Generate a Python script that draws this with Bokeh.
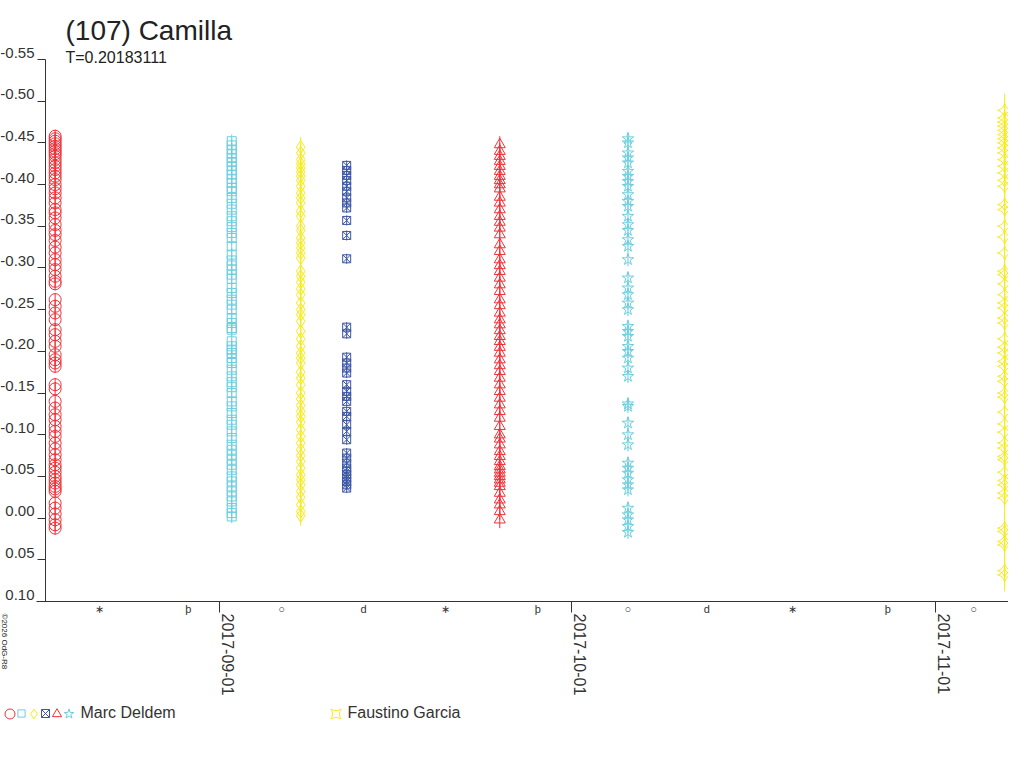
import numpy as np
import pandas as pd
from bokeh.plotting import figure
from bokeh.models import (Range1d, LinearAxis, DatetimeAxis, FixedTicker, DatetimeTickFormatter,
                          NumeralTickFormatter, Label, Legend, LegendItem)
from bokeh.embed import file_html
from bokeh.resources import INLINE

title = "(107) Camilla"
subtitle = "T=0.20183111"
credit = "©2026 OdG-R8"

# relative magnitudes, one list per night
s1_date = "2017-08-18 00:00"   # Marc Deldem, circles
s1_mag = [-0.458, -0.455, -0.452, -0.449, -0.446, -0.443, -0.440, -0.437, -0.434, -0.430,
          -0.426, -0.422, -0.418, -0.414, -0.410, -0.406, -0.400, -0.395, -0.390, -0.384,
          -0.378, -0.370, -0.366, -0.360, -0.352, -0.345, -0.340, -0.333, -0.325, -0.318,
          -0.310, -0.304, -0.298, -0.290, -0.284, -0.281, -0.262, -0.254, -0.246, -0.238,
          -0.226, -0.220, -0.212, -0.206, -0.196, -0.190, -0.186, -0.182, -0.160, -0.155,
          -0.140, -0.132, -0.124, -0.118, -0.110, -0.104, -0.098, -0.090, -0.083, -0.076,
          -0.070, -0.064, -0.060, -0.055, -0.050, -0.046, -0.042, -0.038, -0.035, -0.032,
          -0.018, -0.012, -0.005, 0.002, 0.008, 0.012]
s1_err = 0.008

s2_date = "2017-09-02 01:00"   # Marc Deldem, squares
s2_mag = [-0.452, -0.447, -0.442, -0.437, -0.432, -0.427, -0.422, -0.417, -0.412, -0.407,
          -0.402, -0.396, -0.392, -0.384, -0.377, -0.370, -0.362, -0.356, -0.349, -0.342,
          -0.336, -0.326, -0.316, -0.309, -0.303, -0.298, -0.292, -0.287, -0.276, -0.270,
          -0.262, -0.256, -0.250, -0.240, -0.234, -0.228, -0.226, -0.212, -0.206, -0.202,
          -0.198, -0.192, -0.186, -0.178, -0.170, -0.163, -0.157, -0.150, -0.140, -0.134,
          -0.126, -0.118, -0.112, -0.104, -0.096, -0.088, -0.082, -0.076, -0.070, -0.064,
          -0.058, -0.050, -0.044, -0.038, -0.032, -0.026, -0.020, -0.012, -0.006, -0.002]
s2_err = 0.008

s3_date = "2017-09-07 22:00"   # Marc Deldem, diamonds
s3_mag = [-0.445, -0.438, -0.430, -0.425, -0.420, -0.415, -0.410, -0.405, -0.398, -0.390,
          -0.384, -0.378, -0.368, -0.362, -0.350, -0.345, -0.336, -0.330, -0.324, -0.318,
          -0.312, -0.296, -0.290, -0.283, -0.275, -0.268, -0.258, -0.250, -0.244, -0.236,
          -0.224, -0.215, -0.206, -0.198, -0.192, -0.186, -0.175, -0.168, -0.160, -0.150,
          -0.143, -0.135, -0.128, -0.122, -0.115, -0.106, -0.098, -0.090, -0.082, -0.075,
          -0.068, -0.060, -0.052, -0.046, -0.040, -0.032, -0.025, -0.016, -0.008, -0.003]
s3_err = 0.012

s4_date = "2017-09-11 20:00"   # Marc Deldem, crossed squares
s4_mag = [-0.423, -0.417, -0.411, -0.405, -0.398, -0.392, -0.384, -0.378, -0.372, -0.357,
          -0.339, -0.311, -0.229, -0.221, -0.193, -0.186, -0.180, -0.174, -0.160, -0.152,
          -0.146, -0.140, -0.128, -0.122, -0.112, -0.104, -0.094, -0.078, -0.072, -0.066,
          -0.060, -0.056, -0.052, -0.048, -0.044, -0.040, -0.036]
s4_err = 0.006

s5_date = "2017-09-24 21:00"   # Marc Deldem, triangles
s5_mag = [-0.448, -0.440, -0.434, -0.428, -0.422, -0.416, -0.410, -0.405, -0.400, -0.395,
          -0.385, -0.378, -0.370, -0.362, -0.355, -0.348, -0.340, -0.328, -0.320, -0.310,
          -0.303, -0.296, -0.288, -0.280, -0.272, -0.262, -0.255, -0.246, -0.238, -0.232,
          -0.225, -0.218, -0.212, -0.205, -0.198, -0.190, -0.183, -0.176, -0.168, -0.160,
          -0.152, -0.144, -0.136, -0.128, -0.120, -0.110, -0.100, -0.095, -0.088, -0.080,
          -0.074, -0.068, -0.062, -0.058, -0.054, -0.050, -0.046, -0.042, -0.038, -0.030,
          -0.022, -0.016, -0.008, 0.002]
s5_err = 0.010

s6_date = "2017-10-05 19:00"   # Marc Deldem, stars
s6_mag = [-0.455, -0.450, -0.438, -0.432, -0.426, -0.416, -0.410, -0.404, -0.398, -0.388,
          -0.380, -0.374, -0.362, -0.352, -0.345, -0.334, -0.326, -0.310, -0.288, -0.276,
          -0.268, -0.258, -0.250, -0.230, -0.224, -0.218, -0.206, -0.200, -0.192, -0.180,
          -0.170, -0.137, -0.134, -0.114, -0.100, -0.088, -0.066, -0.060, -0.054, -0.046,
          -0.040, -0.034, -0.012, -0.004, 0.002, 0.010, 0.017]
s6_err = 0.008

s7_date = "2017-11-06 21:00"   # Faustino Garcia
s7_mag = [-0.489, -0.480, -0.475, -0.470, -0.465, -0.460, -0.455, -0.450, -0.444, -0.438,
          -0.430, -0.422, -0.414, -0.405, -0.398, -0.376, -0.370, -0.350, -0.337, -0.318,
          -0.296, -0.292, -0.281, -0.268, -0.258, -0.252, -0.240, -0.234, -0.215, -0.205,
          -0.198, -0.188, -0.182, -0.170, -0.164, -0.150, -0.145, -0.127, -0.113, -0.103,
          -0.090, -0.084, -0.074, -0.070, -0.055, -0.045, -0.040, -0.030, -0.024, 0.012,
          0.016, 0.028, 0.032, 0.063, 0.068]
s7_err = 0.020

y_ticks = [-0.55, -0.50, -0.45, -0.40, -0.35, -0.30, -0.25, -0.20, -0.15, -0.10, -0.05, 0.00, 0.05, 0.10]
month_ticks = ["2017-09-01", "2017-10-01", "2017-11-01"]

# lunar phases (UTC)
moon_times = ["2017-08-21 18:30", "2017-08-29 08:13", "2017-09-06 07:03", "2017-09-13 06:25",
              "2017-09-20 05:30", "2017-09-28 02:53", "2017-10-05 18:40", "2017-10-12 12:25",
              "2017-10-19 19:12", "2017-10-27 22:22", "2017-11-04 05:23"]
moon_marks = ["∗", "þ", "○", "d", "∗", "þ", "○", "d", "∗", "þ", "○"]


def ms(t):
    return float(pd.Timestamp(t).value // 10**6)


FONT = "Liberation Sans"
INK = "#333333"
W, H = 1008, 752

# the frame fills the canvas; the axes sit at fixed places inside it
px_day = 11.74
x0 = pd.Timestamp("2017-09-01") - pd.Timedelta(days=219 / px_day)
x1 = x0 + pd.Timedelta(days=W / px_day)
px_unit = 542 / 0.65
y_top = -0.55 - 59 / px_unit
y_bottom = 0.10 + (H - 601) / px_unit


def x_at(px):
    return ms(x0 + pd.Timedelta(days=px / px_day))


dy = 7 / px_unit                              # lifts y labels above their ticks
dx = pd.Timedelta(days=8 / px_day)            # moves date labels right of their ticks

p = figure(width=W, height=H, x_axis_type="datetime",
           x_range=Range1d(x0, x1), y_range=Range1d(y_bottom, y_top),
           output_backend="svg", toolbar_location=None,
           min_border_left=0, min_border_right=0, min_border_top=0, min_border_bottom=0)
p.outline_line_color = None
p.grid.visible = False
p.extra_y_ranges = {"yl": Range1d(y_bottom + dy, y_top + dy)}
p.extra_x_ranges = {"xl": Range1d(x0 - dx, x1 - dx)}

# series styles: marker, size, colour, angle, legend box
styles = [
    (s1_date, s1_mag, s1_err, "circle", 12, "#EE3239", 0, 25),
    (s2_date, s2_mag, s2_err, "square", 9, "#6CCEDD", 0, 18),
    (s3_date, s3_mag, s3_err, "diamond", 13, "#F7EB1E", 0, 25),
    (s4_date, s4_mag, s4_err, "square_x", 8, "#3B56A5", 0, 20),
    (s5_date, s5_mag, s5_err, "triangle", 11, "#EE3239", 0, 23),
    (s6_date, s6_mag, s6_err, "star", 12, "#6CCEDD", 0, 25),
    (s7_date, s7_mag, s7_err, "square_pin", 10, "#F7EB1E", np.pi / 4, 25),
]
rends = []
for date, mag, err, marker, size, color, ang, box in styles:
    xs = [pd.Timestamp(date)] * len(mag)
    p.segment(xs, [m - err for m in mag], xs, [m + err for m in mag], line_color=color, line_width=1)
    r = p.scatter(xs, mag, marker=marker, size=size, angle=ang, fill_color=None,
                  line_color=color, line_width=1)
    rends.append(r)

# y axis: line and ticks, labels on a lifted twin axis
ya = p.yaxis[0]
ya.fixed_location = x_at(45)
ya.ticker = FixedTicker(ticks=y_ticks)
ya.bounds = (-0.55, 0.10)
ya.major_tick_out = 8
ya.major_tick_in = 0
ya.minor_tick_line_color = None
ya.major_label_overrides = {t: "" for t in y_ticks}
ya.major_label_standoff = 0
ya.axis_line_color = INK
ya.major_tick_line_color = INK

yl = LinearAxis(y_range_name="yl", ticker=FixedTicker(ticks=y_ticks), fixed_location=x_at(40),
                formatter=NumeralTickFormatter(format="0.00"))
yl.axis_line_color = None
yl.major_tick_line_color = None
yl.minor_tick_line_color = None
yl.major_label_standoff = 0
yl.major_label_text_font = FONT
yl.major_label_text_font_size = "15px"
yl.major_label_text_color = INK
p.add_layout(yl, "left")

# x axis: moon phases as labels, month starts as ticks
xa = p.xaxis[0]
moon_ms = [ms(t) for t in moon_times]
xa.fixed_location = 0.10
xa.bounds = (x_at(36), ms(x1))
xa.ticker = FixedTicker(ticks=moon_ms, minor_ticks=[ms(t) for t in month_ticks])
xa.major_label_overrides = dict(zip(moon_ms, moon_marks))
xa.major_tick_out = 0
xa.major_tick_in = 0
xa.minor_tick_out = 11
xa.minor_tick_in = 0
xa.minor_tick_line_color = INK
xa.axis_line_color = INK
xa.major_label_standoff = -10
xa.major_label_text_font = FONT
xa.major_label_text_font_size = "11px"
xa.major_label_text_color = INK

fmt = "%Y-%m-%d"
xl = DatetimeAxis(x_range_name="xl", ticker=FixedTicker(ticks=[ms(t) for t in month_ticks]),
                  fixed_location=0.10 + 6 / px_unit,
                  formatter=DatetimeTickFormatter(milliseconds=fmt, seconds=fmt, minsec=fmt, minutes=fmt,
                                                  hourmin=fmt, hours=fmt, days=fmt, months=fmt, years=fmt))
xl.major_label_orientation = -np.pi / 2
xl.axis_line_color = None
xl.major_tick_line_color = None
xl.minor_tick_line_color = None
xl.major_label_standoff = 0
xl.major_label_text_font = FONT
xl.major_label_text_font_size = "16px"
xl.major_label_text_color = INK
p.add_layout(xl, "below")

# titles and credit, placed from the lower left corner of the canvas
p.add_layout(Label(x=65, y=H - 30, x_units="screen", y_units="screen", text=title,
                   text_font=FONT, text_font_size="28px", text_color="#222222", text_baseline="middle"))
p.add_layout(Label(x=65, y=H - 57, x_units="screen", y_units="screen", text=subtitle,
                   text_font=FONT, text_font_size="16px", text_color="#222222", text_baseline="middle"))
p.add_layout(Label(x=4, y=H - 613, x_units="screen", y_units="screen", text=credit, angle=-np.pi / 2,
                   text_font=FONT, text_font_size="8px", text_color="#222222",
                   text_align="left", text_baseline="middle"))

# legend: one small legend per marker so the boxes can sit side by side
legend_x = [9, 21, 33, 45, 56, 68, 335]
legend_text = ["", "", "", "", "", "Marc Deldem", "Faustino Garcia"]
for r, st, cx, txt in zip(rends, styles, legend_x, legend_text):
    box = st[-1]
    lg = Legend(items=[LegendItem(label=txt, renderers=[r])],
                location=(cx - box / 2, H - 713 - box / 2), orientation="horizontal",
                glyph_width=box, glyph_height=box, label_height=box, label_standoff=0,
                label_width=0, padding=0, margin=0, border_line_color=None,
                background_fill_alpha=0, label_text_font=FONT, label_text_font_size="16px",
                label_text_color=INK)
    p.add_layout(lg)

open("out.html", "w").write(file_html(p, INLINE))
